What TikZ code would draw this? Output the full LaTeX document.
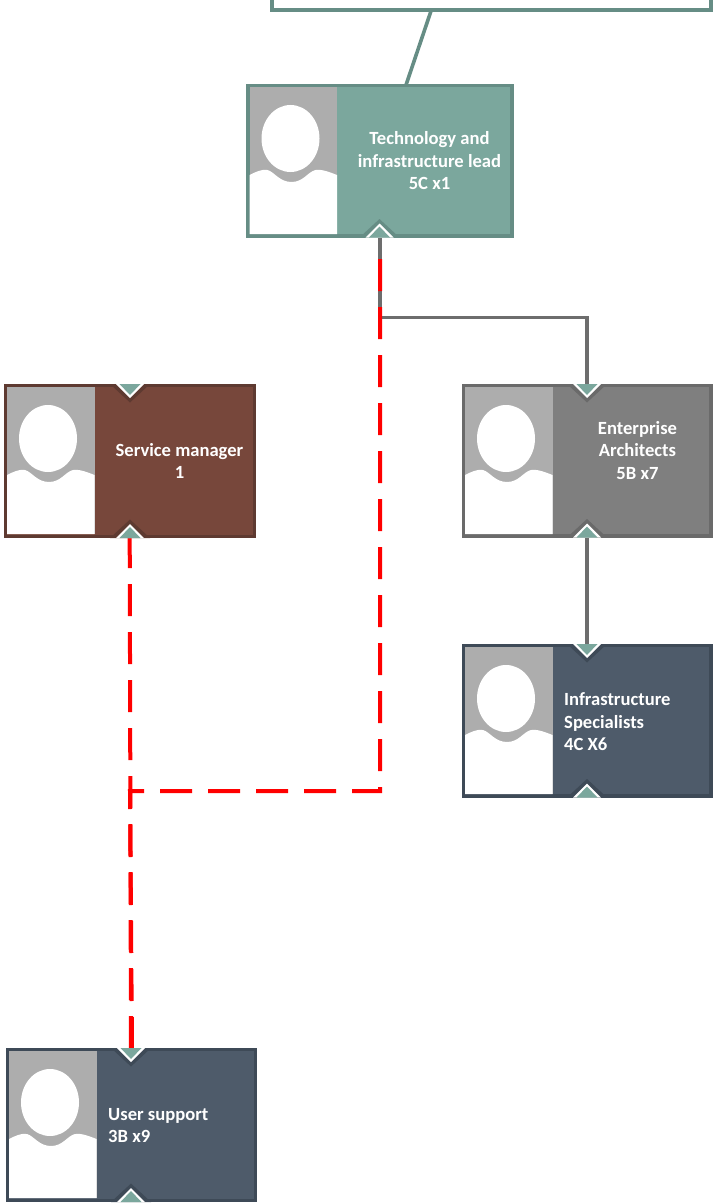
\documentclass[tikz,border=0pt]{standalone}
\usepackage{fontspec}
\setmainfont{Carlito}
\usetikzlibrary{calc}
\pgfdeclarelayer{behind}
\pgfsetlayers{behind,main}
\definecolor{tealF}{HTML}{7BA79D}
\definecolor{tealB}{HTML}{668D85}
\definecolor{brownF}{HTML}{77473B}
\definecolor{brownB}{HTML}{5E3A31}
\definecolor{greyF}{HTML}{7F7F7F}
\definecolor{greyB}{HTML}{6A6A6A}
\definecolor{slateF}{HTML}{4E5B6A}
\definecolor{slateB}{HTML}{3E4A57}
\definecolor{photoG}{HTML}{ADADAD}
\definecolor{linkG}{HTML}{6D6D6D}
\tikzset{
  cardbox/.style={rectangle,draw,line width=3.4pt,inner sep=0pt,outer sep=0pt,anchor=north west},
  cardtext/.style={text=white,inner sep=0pt,font=\bfseries\fontsize{18.6}{22.5}\selectfont},
  greylink/.style={draw=linkG,line width=3.8pt},
  redlink/.style={draw=red,line width=4pt,dash pattern=on 32pt off 16pt},
  teallink/.style={draw=tealB,line width=3.6pt}
}
% name, left, top, right, bottom (centre lines of the border), fill, border
\newcommand{\cardshape}[7]{%
  \node[cardbox,draw=#7,fill=#6,minimum width=#4pt-#2pt,minimum height=#5pt-#3pt] (#1) at (#2,#3) {};
  \begin{scope}[shift={(#2+1.5,#3+1.5)}]
    \fill[photoG] (0,0) rectangle (87.5,147);
    \fill[white] (41,51.5) ellipse [x radius=29,y radius=33.5];
    \fill[white] (0,88) .. controls (6,85) and (12,82) .. (18,83)
      .. controls (25,85) and (30,95) .. (42,95)
      .. controls (54,95) and (58,85) .. (66,83)
      .. controls (72,82) and (80,85) .. (87.5,88) -- (87.5,147) -- (0,147) -- cycle;
  \end{scope}
}
% x, outer edge y, direction (+1 points down, -1 points up), border
\newcommand{\notchmark}[4]{%
  \begin{scope}[shift={(#1,#2)}]
    \clip (-25,0) rectangle (25,#3*25);
    \fill[#4] (-20,0) -- (0,#3*18.5) -- (20,0) -- cycle;
    \fill[white] (-14,0) -- (0,#3*14) -- (14,0) -- cycle;
    \fill[tealF] (-10.5,0) -- (0,#3*11) -- (10.5,0) -- cycle;
  \end{scope}
}
\begin{document}
\begin{tikzpicture}[x=1pt,y=-1pt]
\useasboundingbox (0,0) rectangle (713,1204);
% cards
\node[cardbox,draw=tealB,fill=white,minimum width=439pt,minimum height=30pt] (board) at (272,-20) {};
\cardshape{lead}{248}{85.5}{512}{236}{tealF}{tealB}
\cardshape{service}{5.5}{385.5}{254.5}{536.5}{brownF}{brownB}
\cardshape{arch}{463.5}{385.5}{711}{536}{greyF}{greyB}
\cardshape{infra}{463.5}{645.5}{711}{796}{slateF}{slateB}
\cardshape{support}{7.5}{1049.5}{255.5}{1200.5}{slateF}{slateB}
% notches
\notchmark{379.5}{237.5}{-1}{tealB}
\notchmark{130}{384}{1}{brownB}
\notchmark{130}{538}{-1}{brownB}
\notchmark{587}{384}{1}{greyB}
\notchmark{587}{537.5}{-1}{greyB}
\notchmark{587}{644}{1}{slateB}
\notchmark{587}{797.5}{-1}{slateB}
\notchmark{131}{1048}{1}{slateB}
\notchmark{131}{1202}{-1}{slateB}
% labels
\node[cardtext,align=center] (leadT) at (429.5,161) {Technology and\\infrastructure lead\\5C x1};
\node[cardtext,align=center] (serviceT) at (179.5,461) {Service manager\\1};
\node[cardtext,align=center] (archT) at (637.5,450.5) {Enterprise\\Architects\\5B x7};
\node[cardtext,align=left,anchor=west] (infraT) at (564,722) {Infrastructure\\Specialists\\4C X6};
\node[cardtext,align=left,anchor=west] (supportT) at (108,1125.5) {User support\\3B x9};
% connectors
\coordinate (boardOut) at (431,11);
\coordinate (leadIn) at (406,85);
\coordinate (leadOut) at (379.7,237);
\coordinate (archIn) at (587,385);
\coordinate (archOut) at (587,537);
\coordinate (infraIn) at (587,645);
\coordinate (redStart) at (380,259);
\coordinate (redCorner) at (380,791);
\coordinate (redJoin) at (130,791);
\coordinate (serviceOut) at (129.7,536);
\coordinate (supportIn) at (131,1049);
\begin{pgfonlayer}{behind}
  \draw[teallink] (boardOut) -- (leadIn);
  \draw[greylink] (leadOut) |- (587,317.5) -- (archIn);
  \draw[greylink] (archOut) -- (infraIn);
  \draw[redlink] (serviceOut) -- (supportIn);
  \draw[redlink,line join=miter] (redStart) -- (redCorner) -- (redJoin) -- (132,1049);
\end{pgfonlayer}
\end{tikzpicture}
\end{document}
